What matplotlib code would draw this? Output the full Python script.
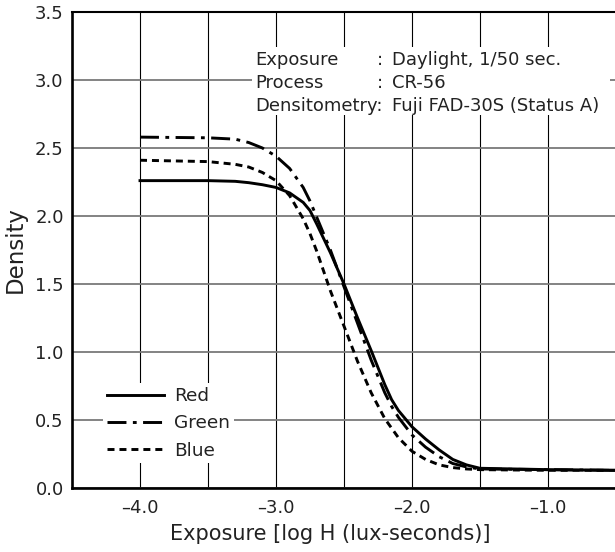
#!/usr/bin/env python3
"""
特性曲线 (Characteristic curves) - Density vs. log exposure
"""

import matplotlib
matplotlib.use("Agg")
import matplotlib.pyplot as plt
from matplotlib.patches import Rectangle
from matplotlib.ticker import MultipleLocator, FixedLocator

# 曲线数据
log_h = [-4.0, -3.5, -3.3, -3.2, -3.1, -3.0, -2.9, -2.8, -2.75, -2.7, -2.6, -2.5,
         -2.4, -2.3, -2.2, -2.15, -2.1, -2.0, -1.9, -1.8, -1.7, -1.6, -1.5, -1.0, -0.5]
red = [2.26, 2.26, 2.255, 2.245, 2.23, 2.21, 2.17, 2.10, 2.04, 1.94, 1.73, 1.50,
       1.25, 1.01, 0.76, 0.65, 0.57, 0.45, 0.36, 0.28, 0.21, 0.17, 0.145, 0.135, 0.13]
green = [2.58, 2.575, 2.565, 2.54, 2.50, 2.44, 2.35, 2.21, 2.11, 1.99, 1.75, 1.48,
         1.21, 0.94, 0.70, 0.60, 0.52, 0.39, 0.30, 0.23, 0.18, 0.155, 0.14, 0.135, 0.13]
blue = [2.41, 2.40, 2.38, 2.36, 2.32, 2.26, 2.15, 1.98, 1.87, 1.74, 1.45, 1.19,
        0.93, 0.70, 0.51, 0.44, 0.37, 0.27, 0.21, 0.17, 0.15, 0.14, 0.135, 0.13, 0.13]

x_ticks = [-4.0, -3.0, -2.0, -1.0]
x_tick_labels = ["\u20134.0", "\u20133.0", "\u20132.0", "\u20131.0"]
y_ticks = [0.0, 0.5, 1.0, 1.5, 2.0, 2.5, 3.0, 3.5]

info_keys = ["Exposure", "Process", "Densitometry:"]
info_vals = ["Daylight, 1/50 sec.", "CR-56", "Fuji FAD-30S (Status A)"]


def plot_curves():
    plt.rcParams['font.family'] = ['DejaVu Sans']
    fs = 13

    fig = plt.figure(figsize=(6.15, 5.52), dpi=100)
    ax = fig.add_axes([72 / 615, 64 / 552, 544 / 615, 476 / 552])

    ax.set_xlim(-4.5, -0.5)
    ax.set_ylim(0, 3.5)

    # 网格: 竖线黑色, 横线灰色
    ax.xaxis.set_major_locator(FixedLocator(x_ticks))
    ax.xaxis.set_minor_locator(MultipleLocator(0.5))
    ax.set_xticks(x_ticks)
    ax.set_xticklabels(x_tick_labels)
    ax.set_yticks(y_ticks)
    ax.set_yticklabels([f"{v:.1f}" for v in y_ticks])
    ax.grid(True, axis='x', which='both', color='black', linewidth=0.8)
    ax.grid(True, axis='y', which='major', color='#7a7a7a', linewidth=1.3)
    ax.tick_params(which='both', length=0, labelsize=fs, colors='#222222')
    ax.tick_params(axis='x', pad=8)
    ax.tick_params(axis='y', pad=6)

    for side in ['left', 'bottom']:
        ax.spines[side].set_linewidth(1.9)
    ax.spines['top'].set_linewidth(1.5)
    ax.spines['right'].set_visible(False)

    # 曲线
    ax.plot(log_h, red, color='black', linewidth=2.1, label='Red', zorder=3)
    ax.plot(log_h, green, color='black', linewidth=2.1, dashes=(6.5, 2.2, 1.3, 2.2),
            label='Green', zorder=3)
    ax.plot(log_h, blue, color='black', linewidth=2.1, dashes=(2.4, 1.7),
            label='Blue', zorder=3)

    # 说明文字 (白底遮住网格)
    ax.add_patch(Rectangle((-3.176, 2.74), 2.63, 0.50, facecolor='white',
                           edgecolor='none', zorder=2))
    for i, (k, v) in enumerate(zip(info_keys, info_vals)):
        yy = 3.15 - i * 0.172
        ax.text(-3.155, yy, k, fontsize=fs, va='center', ha='left', zorder=4,
                color='#222222')
        if not k.endswith(':'):
            ax.text(-2.255, yy, ':', fontsize=fs, va='center', ha='left', zorder=4,
                    color='#222222')
        ax.text(-2.15, yy, v, fontsize=fs, va='center', ha='left', zorder=4,
                color='#222222')

    leg = ax.legend(loc='lower left', bbox_to_anchor=(0.057, 0.052), fontsize=13.3,
                    frameon=True, framealpha=1, edgecolor='none', fancybox=False,
                    handlelength=3.1, handletextpad=0.55, labelspacing=0.5,
                    borderpad=0.2, borderaxespad=0)
    for t in leg.get_texts():
        t.set_color('#222222')
    leg.set_zorder(5)

    ax.set_xlabel('Exposure [log H (lux-seconds)]', fontsize=15, color='#222222')
    ax.xaxis.set_label_coords(0.474, -0.075)
    ax.set_ylabel('Density', fontsize=16.5, labelpad=6, color='#222222')

    plt.savefig('out.png', dpi=100)


if __name__ == "__main__":
    plot_curves()
